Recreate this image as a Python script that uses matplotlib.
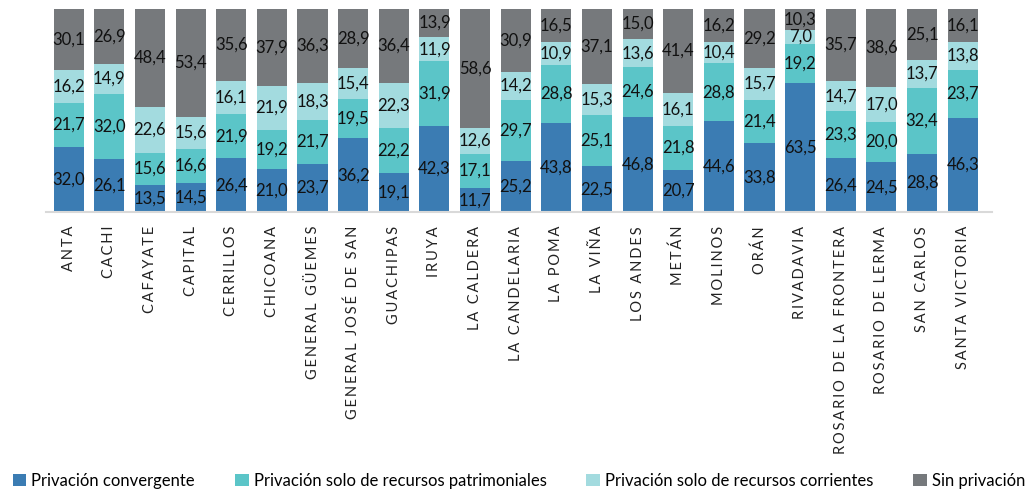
import numpy as np
import matplotlib.pyplot as plt

plt.rcParams['font.family'] = ['Lato', 'DejaVu Sans']

# Data
categories = ['ANTA', 'CACHI', 'CAFAYATE', 'CAPITAL', 'CERRILLOS', 'CHICOANA',
              'GENERAL GÜEMES', 'GENERAL JOSÉ DE SAN', 'GUACHIPAS', 'IRUYA',
              'LA CALDERA', 'LA CANDELARIA', 'LA POMA', 'LA VIÑA', 'LOS ANDES',
              'METÁN', 'MOLINOS', 'ORÁN', 'RIVADAVIA', 'ROSARIO DE LA FRONTERA',
              'ROSARIO DE LERMA', 'SAN CARLOS', 'SANTA VICTORIA']
convergente = [32.0, 26.1, 13.5, 14.5, 26.4, 21.0, 23.7, 36.2, 19.1, 42.3, 11.7, 25.2,
               43.8, 22.5, 46.8, 20.7, 44.6, 33.8, 63.5, 26.4, 24.5, 28.8, 46.3]
patrimoniales = [21.7, 32.0, 15.6, 16.6, 21.9, 19.2, 21.7, 19.5, 22.2, 31.9, 17.1, 29.7,
                 28.8, 25.1, 24.6, 21.8, 28.8, 21.4, 19.2, 23.3, 20.0, 32.4, 23.7]
corrientes = [16.2, 14.9, 22.6, 15.6, 16.1, 21.9, 18.3, 15.4, 22.3, 11.9, 12.6, 14.2,
              10.9, 15.3, 13.6, 16.1, 10.4, 15.7, 7.0, 14.7, 17.0, 13.7, 13.8]
sin_privacion = [30.1, 26.9, 48.4, 53.4, 35.6, 37.9, 36.3, 28.9, 36.4, 13.9, 58.6, 30.9,
                 16.5, 37.1, 15.0, 41.4, 16.2, 29.2, 10.3, 35.7, 38.6, 25.1, 16.1]

series = [convergente, patrimoniales, corrientes, sin_privacion]
names = ['Privación convergente', 'Privación solo de recursos patrimoniales',
         'Privación solo de recursos corrientes', 'Sin privación']
colors = ['#3b7cb3', '#5bc5c8', '#a3dbdf', '#76797c']

fig = plt.figure(figsize=(10.35, 4.92), dpi=100)
ax = fig.add_axes([0.044, 0.569, 0.914, 0.413])

x = np.arange(len(categories))
bottom = np.zeros(len(categories))
for vals, name, col in zip(series, names, colors):
    vals = np.array(vals)
    ax.bar(x, vals, width=0.74, bottom=bottom, color=col, label=name)
    for xi, b, v in zip(x, bottom, vals):
        ax.text(xi, b + v / 2, f'{v:.1f}'.replace('.', ','), ha='center', va='center',
                fontsize=12, color='#111111')
    bottom += vals

ax.set_xlim(-0.57, 22.71)
ax.set_ylim(0, 100)
for s in ['top', 'right', 'left']:
    ax.spines[s].set_visible(False)
ax.spines['bottom'].set_color('#d9d9d9')
ax.spines['bottom'].set_linewidth(1.5)
ax.set_yticks([])
ax.tick_params(axis='x', length=0, pad=10)


def spaced(s):
    # wide letter spacing like the original labels
    return '\u2009'.join(s)


ax.set_xticks(x)
ax.set_xticklabels([spaced(c) for c in categories], rotation=90, fontsize=10.5,
                   va='top', ha='center', color='#222222')

fig.legend(loc='lower left', bbox_to_anchor=(0.003, -0.014, 0.997, 0.05), ncol=4,
           mode='expand', frameon=False, fontsize=12, handlelength=0.8,
           handleheight=0.8, handletextpad=0.3, borderaxespad=0.2)

fig.savefig('out.png', dpi=100)
